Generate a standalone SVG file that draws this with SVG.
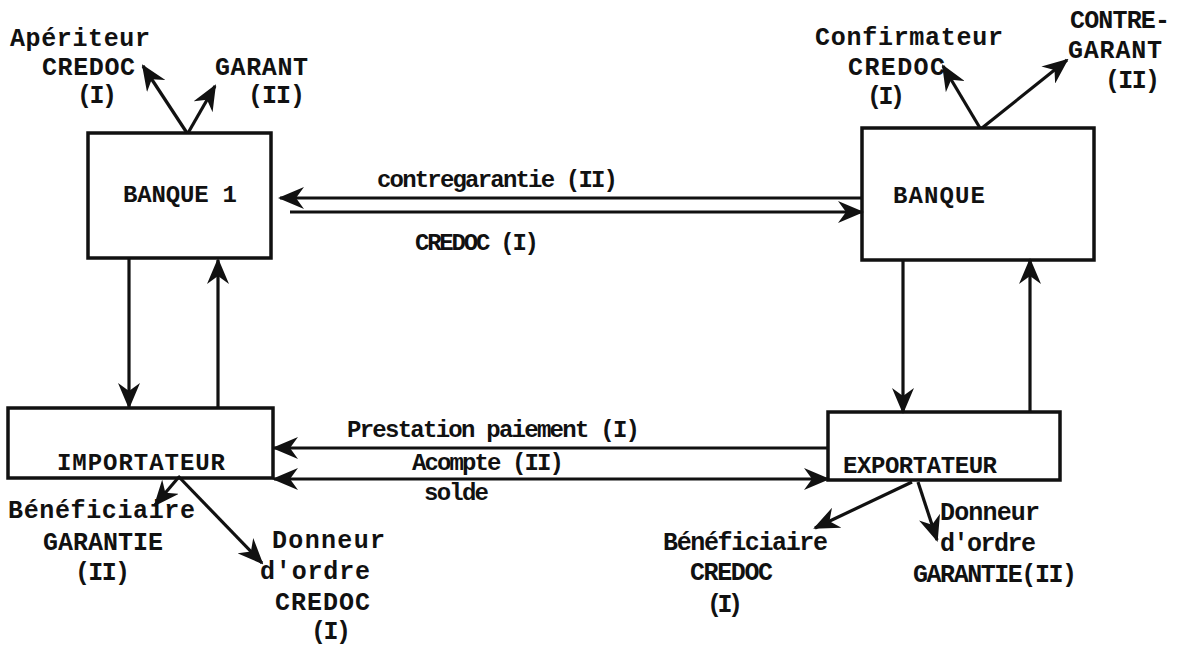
<svg xmlns="http://www.w3.org/2000/svg" width="1195" height="647" viewBox="0 0 1195 647">
<style>
.box{fill:none;stroke:#111;stroke-width:3.5}
.ln{fill:none;stroke:#111;stroke-width:3.2}
text{font-family:"Liberation Mono","Courier New",monospace;fill:#111;font-weight:bold}
.t{font-size:25px}
.m{font-size:24px}
</style>
<defs>
<marker id="ah" viewBox="0 0 26 22" refX="24" refY="11" markerWidth="26" markerHeight="22" markerUnits="userSpaceOnUse" orient="auto-start-reverse">
<path d="M0,0 L26,11 L0,22 L8,11 z" fill="#111"/>
</marker>
</defs>
<rect width="1195" height="647" fill="#fff"/>
<g id="banque1">
<rect class="box" x="88" y="133" width="183" height="125"/>
<text class="m" x="123" y="202" textLength="114">BANQUE 1</text>
</g>
<g id="banque2">
<rect class="box" x="862" y="128" width="232" height="132"/>
<text class="m" x="893" y="203" textLength="92">BANQUE</text>
</g>
<g id="importateur">
<rect class="box" x="8" y="408" width="265" height="70"/>
<text class="m" x="57" y="470" textLength="168">IMPORTATEUR</text>
</g>
<g id="exportateur">
<rect class="box" x="828" y="412" width="232" height="68"/>
<text class="m" x="843" y="473" textLength="154">EXPORTATEUR</text>
</g>
<g id="aperiteur">
<text class="t" x="10" y="46" textLength="140">Apériteur</text>
<text class="t" x="42" y="75" textLength="93">CREDOC</text>
<text class="t" x="77" y="103" textLength="40">(I)</text>
</g>
<g id="garant">
<text class="t" x="215" y="75" textLength="93">GARANT</text>
<text class="t" x="248" y="103" textLength="57">(II)</text>
</g>
<g id="confirmateur">
<text class="t" x="815" y="45" textLength="188">Confirmateur</text>
<text class="t" x="848" y="75" textLength="97">CREDOC</text>
<text class="t" x="867" y="104" textLength="38">(I)</text>
</g>
<g id="contregarant">
<text class="t" x="1070" y="28" textLength="100">CONTRE-</text>
<text class="t" x="1068" y="58" textLength="94">GARANT</text>
<text class="t" x="1105" y="88" textLength="55">(II)</text>
</g>
<g id="beneficiaire-garantie">
<text class="t" x="8" y="518" textLength="187">Bénéficiaire</text>
<text class="t" x="43" y="550" textLength="120">GARANTIE</text>
<text class="t" x="75" y="580" textLength="55">(II)</text>
</g>
<g id="donneur-credoc">
<text class="t" x="272" y="548" textLength="113">Donneur</text>
<text class="t" x="260" y="579" textLength="110">d'ordre</text>
<text class="t" x="275" y="610" textLength="95">CREDOC</text>
<text class="t" x="311" y="639" textLength="40">(I)</text>
</g>
<g id="beneficiaire-credoc">
<text class="t" x="663" y="550" textLength="165">Bénéficiaire</text>
<text class="t" x="690" y="580" textLength="83">CREDOC</text>
<text class="t" x="707" y="612" textLength="36">(I)</text>
</g>
<g id="donneur-garantie">
<text class="t" x="940" y="520" textLength="100">Donneur</text>
<text class="t" x="940" y="551" textLength="96">d'ordre</text>
<text class="t" x="913" y="582" textLength="164">GARANTIE(II)</text>
</g>
<g id="connectors">
<line class="ln" x1="187" y1="133" x2="143" y2="66" marker-end="url(#ah)"/>
<line class="ln" x1="188" y1="133" x2="215" y2="86" marker-end="url(#ah)"/>
<line class="ln" x1="980" y1="128" x2="943" y2="66" marker-end="url(#ah)"/>
<line class="ln" x1="982" y1="128" x2="1067" y2="60" marker-end="url(#ah)"/>
<line class="ln" x1="862" y1="198" x2="280" y2="198" marker-end="url(#ah)"/>
<line class="ln" x1="290" y1="212" x2="862" y2="212" marker-end="url(#ah)"/>
<line class="ln" x1="129" y1="258" x2="129" y2="407" marker-end="url(#ah)"/>
<line class="ln" x1="218" y1="407" x2="218" y2="260" marker-end="url(#ah)"/>
<line class="ln" x1="903" y1="260" x2="903" y2="412" marker-end="url(#ah)"/>
<line class="ln" x1="1030" y1="412" x2="1030" y2="260" marker-end="url(#ah)"/>
<line class="ln" x1="828" y1="448" x2="274" y2="448" marker-end="url(#ah)"/>
<line class="ln" x1="274" y1="479" x2="828" y2="479" marker-start="url(#ah)" marker-end="url(#ah)"/>
<line class="ln" x1="178" y1="478" x2="155" y2="505" marker-end="url(#ah)"/>
<line class="ln" x1="178" y1="476" x2="262" y2="563" marker-end="url(#ah)"/>
<line class="ln" x1="912" y1="482" x2="815" y2="528" marker-end="url(#ah)"/>
<line class="ln" x1="918" y1="482" x2="937" y2="540" marker-end="url(#ah)"/>
<text class="m" x="377" y="187" textLength="241">contregarantie (II)</text>
<text class="m" x="415" y="250" textLength="124">CREDOC (I)</text>
<text class="m" x="347" y="437" textLength="293">Prestation paiement (I)</text>
<text class="m" x="412" y="470" textLength="152">Acompte (II)</text>
<text class="m" x="424" y="500" textLength="65">solde</text>
</g>
</svg>
